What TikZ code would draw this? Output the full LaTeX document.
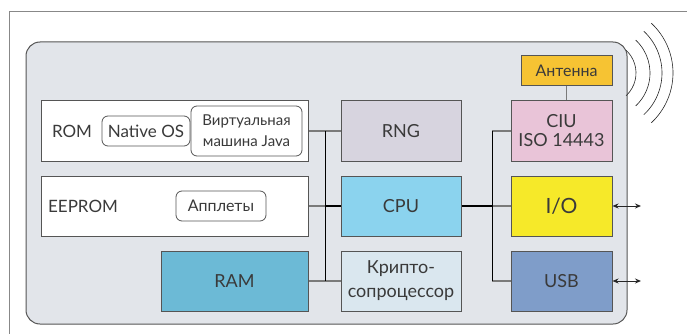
\documentclass[tikz,border=0pt]{standalone}
\usepackage{fontspec}
\setmainfont{Lato}
\usepackage{tikz}
\usetikzlibrary{arrows.meta, positioning, calc}
\definecolor{Card_Panel}{HTML}{E2E5EA}
\definecolor{Card_Line}{HTML}{555555}
\definecolor{Card_Stub}{HTML}{7A7A7A}
\definecolor{Card_Text}{HTML}{3A3A3A}
\definecolor{Card_RNG}{HTML}{D7D4DF}
\definecolor{Card_CPU}{HTML}{8BD3EE}
\definecolor{Card_Crypto}{HTML}{DAE7EF}
\definecolor{Card_RAM}{HTML}{6CBAD6}
\definecolor{Card_CIU}{HTML}{E9C4D8}
\definecolor{Card_IO}{HTML}{F6E929}
\definecolor{Card_USB}{HTML}{7F9DC9}
\definecolor{Card_Antenna}{HTML}{F6C333}

\begin{document}
\begin{tikzpicture}[x=1pt, y=-1pt,
    block/.style={draw=Card_Line, line width=1pt, inner sep=0pt, minimum height=60pt, text=Card_Text, align=center, font=\fontsize{18}{22}\selectfont},
    inner/.style={draw=Card_Line, line width=0.8pt, rounded corners=6pt, fill=white, inner sep=0pt, minimum height=30pt, text=Card_Text, align=center},
    label/.style={text=Card_Text, font=\fontsize{17}{20}\selectfont},
    stub/.style={Card_Stub, line width=1.2pt},
    bus/.style={black, line width=1pt},
    cpulink/.style={black, line width=2pt},
    wave/.style={black!85, line width=0.6pt},
    io arrow/.style={{Stealth[length=6pt,width=5pt]}-{Stealth[length=6pt,width=5pt]}, black!85, line width=1pt}]

    \useasboundingbox (0,0) rectangle (687,334);

    % Page frame
    \draw[Card_Line!70, line width=1pt] (9,334) -- (9,12) -- (687,12);

    % Card body
    \draw[Card_Line, line width=1pt, fill=Card_Panel, rounded corners=14pt] (26,42) rectangle (627,324);

    % Radio waves
    \foreach \r in {31,45,57,68}
        \draw[wave] (605,73) ++(-47:\r) arc[start angle=-47, end angle=47, radius=\r];

    % Memory blocks
    \node[block, fill=white, minimum width=267pt] (rom) at (175,131) {};
    \node[block, fill=white, minimum width=267pt] (eeprom) at (175,206) {};
    \node[block, fill=Card_RAM, minimum width=147pt] (ram) at (234.5,281) {RAM};
    \node[label] (romlabel) at (72,131) {ROM};
    \node[label] (eepromlabel) at (83,206) {EEPROM};
    \node[inner, minimum width=88pt, font=\fontsize{17}{20}\selectfont] (nativeos) at (146,131) {Native OS};
    \node[inner, minimum width=111pt, minimum height=50pt, font=\fontsize{15}{21}\selectfont] (javavm) at (246.5,131) {Виртуальная\\машина Java};
    \node[inner, minimum width=90pt, font=\fontsize{16}{20}\selectfont] (applets) at (221,206) {Апплеты};

    % Core blocks
    \node[block, fill=Card_RNG, minimum width=120pt] (rng) at (401,131) {RNG};
    \node[block, fill=Card_CPU, minimum width=120pt] (cpu) at (401,206) {CPU};
    \node[block, fill=Card_Crypto, minimum width=120pt, font=\fontsize{18}{24}\selectfont] (crypto) at (401,281) {Крипто-\\сопроцессор};

    % Interface blocks
    \node[block, fill=Card_CIU, minimum width=101pt, font=\fontsize{18}{19}\selectfont] (ciu) at (561.5,131) {CIU\\ISO 14443};
    \node[block, fill=Card_IO, minimum width=101pt, font=\fontsize{21}{24}\selectfont] (io) at (561.5,206) {I/O};
    \node[block, fill=Card_USB, minimum width=101pt] (usb) at (561.5,281) {USB};
    \node[block, fill=Card_Antenna, minimum width=91pt, minimum height=30pt, font=\fontsize{16}{20}\selectfont] (antenna) at (566.5,71) {Антенна};

    % Internal bus
    \coordinate (lbtop) at (325,131);
    \coordinate (lbmid) at (325,206);
    \coordinate (lbbot) at (325,281);
    \coordinate (rbtop) at (492,131);
    \coordinate (rbmid) at (492,206);
    \coordinate (rbbot) at (492,281);
    \draw[stub] (rom) -- (rng);
    \draw[stub] (eeprom) -- (lbmid);
    \draw[stub] (ram) -- (crypto);
    \draw[cpulink] (lbmid) -- (cpu);
    \draw[bus] (lbtop) -- (lbbot);
    \draw[stub] (rbtop) -- (ciu);
    \draw[stub] (rbmid) -- (io);
    \draw[stub] (rbbot) -- (usb);
    \draw[cpulink] (cpu) -- (rbmid);
    \draw[bus] (rbtop) -- (rbbot);
    \draw[stub] (antenna.south) -- (antenna.south |- ciu.north);

    % External lines
    \coordinate (ioend) at (641,206);
    \coordinate (usbend) at (641,281);
    \draw[io arrow] (io) -- (ioend);
    \draw[io arrow] (usb) -- (usbend);
\end{tikzpicture}
\end{document}
